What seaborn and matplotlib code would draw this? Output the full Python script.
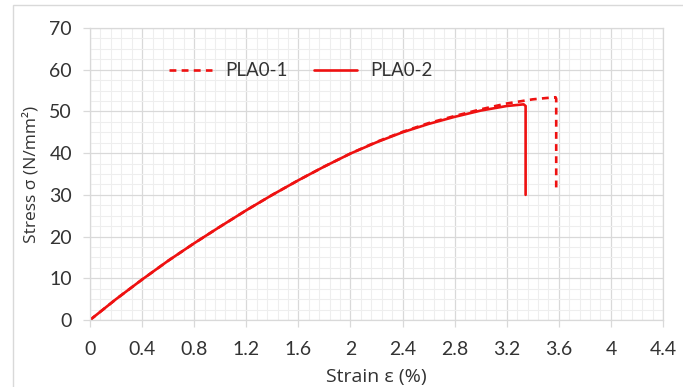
import matplotlib
matplotlib.use("Agg")
import matplotlib.pyplot as plt
import matplotlib.patches as mpatches
from matplotlib.ticker import MultipleLocator
import seaborn as sns

# strain (%) / stress (N/mm2)
strain_pla0_1 = [0, 0.2, 0.4, 0.6, 0.8, 1.0, 1.2, 1.4, 1.6, 1.8, 2.0, 2.2, 2.4, 2.6,
                 2.8, 3.0, 3.2, 3.4, 3.5, 3.575, 3.58, 3.58]
stress_pla0_1 = [0, 5.0, 9.7, 14.2, 18.4, 22.4, 26.3, 30.0, 33.5, 36.8, 39.9, 42.7, 45.1, 47.2,
                 48.9, 50.5, 51.9, 52.9, 53.2, 53.4, 53.0, 31.0]
strain_pla0_2 = [0, 0.2, 0.4, 0.6, 0.8, 1.0, 1.2, 1.4, 1.6, 1.8, 2.0, 2.2, 2.4, 2.6,
                 2.8, 3.0, 3.2, 3.33, 3.345, 3.345]
stress_pla0_2 = [0, 5.0, 9.7, 14.2, 18.4, 22.4, 26.3, 30.0, 33.5, 36.8, 39.9, 42.6, 45.0, 47.0,
                 48.7, 50.2, 51.3, 51.7, 51.3, 30.0]
xtick_values = [0, 0.4, 0.8, 1.2, 1.6, 2.0, 2.4, 2.8, 3.2, 3.6, 4.0, 4.4]
xtick_labels = ['0', '0.4', '0.8', '1.2', '1.6', '2', '2.4', '2.8', '3.2', '3.6', '4', '4.4']
ytick_values = [0, 10, 20, 30, 40, 50, 60, 70]

sns.set_style('white')
plt.rcParams['font.family'] = ['Lato', 'DejaVu Sans']
text_color = '#333333'
grid_major = '#d9d9d9'
grid_minor = '#eeeeee'
red = '#ee1111'

fig = plt.figure(figsize=(6.83, 3.87), dpi=100)
ax = fig.add_axes([90 / 683, 1 - 320 / 387, 573 / 683, 292 / 387])

# thin chart-area frame like the Excel export
fig.patches.append(mpatches.Rectangle((13 / 683, -0.1), 1.2, 1.1 - 5 / 387, transform=fig.transFigure,
                                      fill=False, edgecolor='#d9d9d9', linewidth=1.0))

sns.lineplot(x=strain_pla0_1, y=stress_pla0_1, sort=False, estimator=None, ax=ax,
             color=red, linewidth=1.9, linestyle=(0, (2.6, 2.0)), label='PLA0-1')
sns.lineplot(x=strain_pla0_2, y=stress_pla0_2, sort=False, estimator=None, ax=ax,
             color=red, linewidth=1.9, label='PLA0-2')

ax.set_xlim(0, 4.4)
ax.set_ylim(0, 70)
ax.set_xticks(xtick_values)
ax.set_xticklabels(xtick_labels)
ax.set_yticks(ytick_values)
ax.xaxis.set_minor_locator(MultipleLocator(0.08))
ax.yaxis.set_minor_locator(MultipleLocator(2.5))
ax.grid(which='major', color=grid_major, linewidth=0.9)
ax.grid(which='minor', color=grid_minor, linewidth=0.8)
ax.set_axisbelow(True)
for side in ax.spines.values():
    side.set_color(grid_major)
    side.set_linewidth(0.9)
ax.tick_params(which='major', direction='out', length=5, width=0.9, color=grid_major,
               labelsize=14, labelcolor=text_color, bottom=True, left=True)
ax.tick_params(axis='x', which='major', pad=10)
ax.tick_params(axis='y', which='major', pad=8)
ax.tick_params(which='minor', length=0)

# Open Sans carries the greek letters, so no glyph fallback in the titles
ax.set_xlabel('Strain ε (%)', fontsize=14, color=text_color, labelpad=7, family='Open Sans')
ax.set_ylabel('Stress σ (N/mm²)', fontsize=12.5, color=text_color, labelpad=7, family='Open Sans')

ax.legend(loc='center', bbox_to_anchor=(0.368, 0.853), ncol=2, frameon=False, fontsize=13.5,
          handlelength=2.3, columnspacing=1.4, handletextpad=0.7, labelcolor=text_color)

fig.savefig('out.png', dpi=100)
